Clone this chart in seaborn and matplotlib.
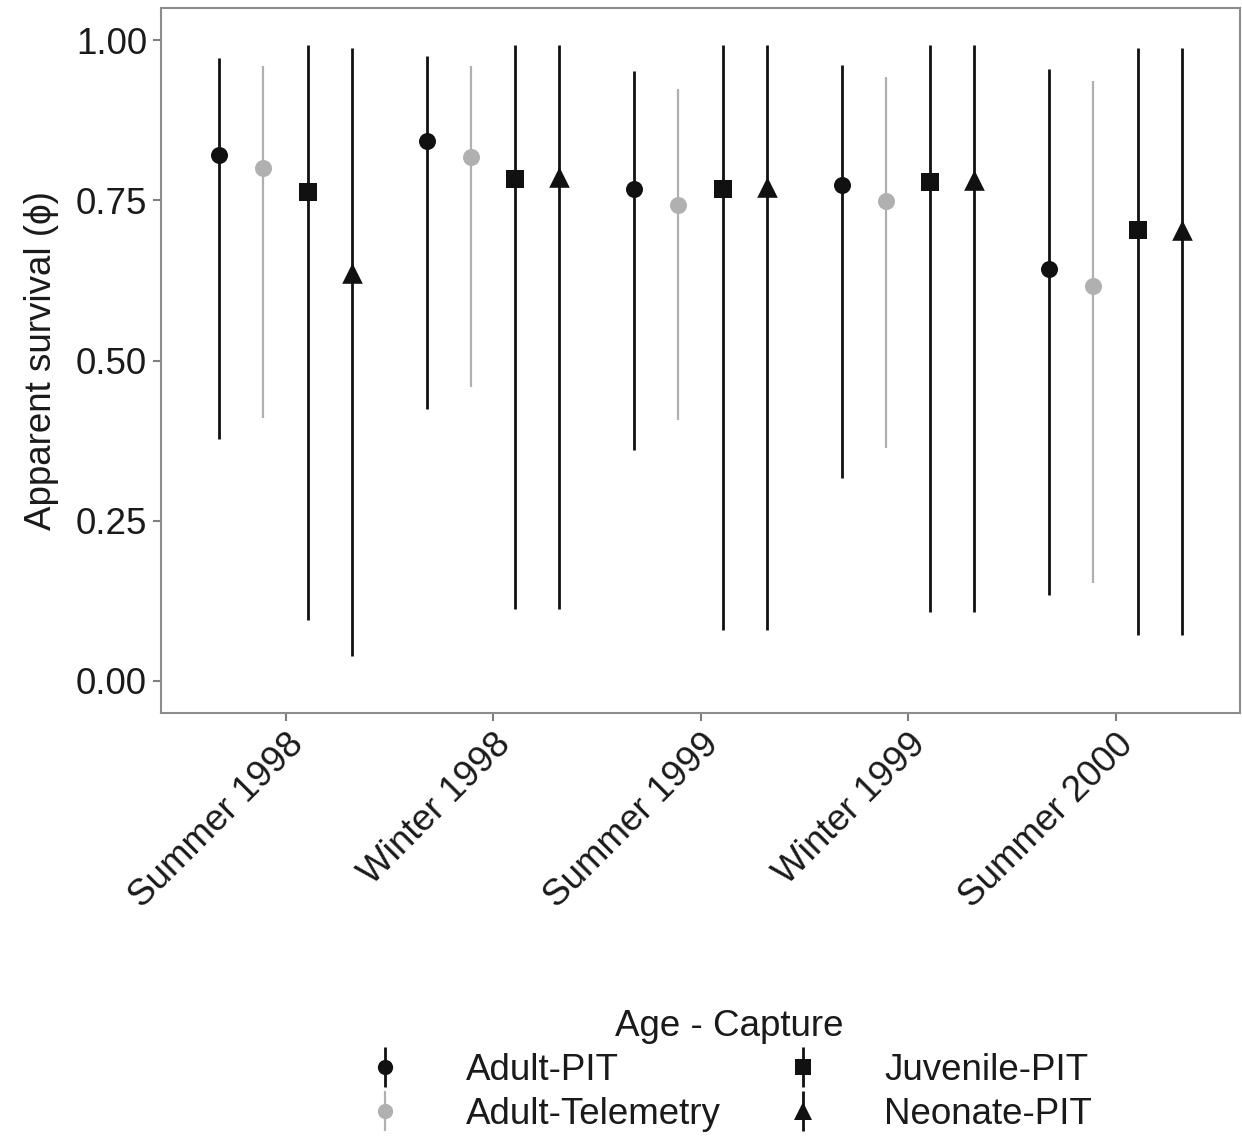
import numpy as np
import pandas as pd
import matplotlib
matplotlib.use("Agg")
import matplotlib.pyplot as plt
import seaborn as sns
from matplotlib.lines import Line2D
from matplotlib.legend_handler import HandlerTuple

# Survival estimates with 95% confidence limits per season and age/capture group
seasons = ["Summer 1998", "Winter 1998", "Summer 1999", "Winter 1999", "Summer 2000"]
groups = ["Adult-PIT", "Adult-Telemetry", "Juvenile-PIT", "Neonate-PIT"]

adult_pit_est = [0.820, 0.843, 0.768, 0.774, 0.643]
adult_pit_lo = [0.377, 0.424, 0.360, 0.316, 0.134]
adult_pit_hi = [0.972, 0.975, 0.952, 0.961, 0.955]

adult_tel_est = [0.800, 0.818, 0.743, 0.749, 0.617]
adult_tel_lo = [0.410, 0.459, 0.407, 0.364, 0.153]
adult_tel_hi = [0.960, 0.960, 0.924, 0.942, 0.936]

juvenile_est = [0.763, 0.783, 0.768, 0.779, 0.703]
juvenile_lo = [0.095, 0.112, 0.079, 0.107, 0.071]
juvenile_hi = [0.992, 0.992, 0.992, 0.992, 0.987]

neonate_est = [0.636, 0.787, 0.771, 0.782, 0.704]
neonate_lo = [0.039, 0.112, 0.079, 0.107, 0.071]
neonate_hi = [0.988, 0.992, 0.992, 0.992, 0.987]

est = [adult_pit_est, adult_tel_est, juvenile_est, neonate_est]
lo = [adult_pit_lo, adult_tel_lo, juvenile_lo, neonate_lo]
hi = [adult_pit_hi, adult_tel_hi, juvenile_hi, neonate_hi]

rows = []
for gi, g in enumerate(groups):
    for si, s in enumerate(seasons):
        rows.append(dict(season=s, group=g, est=est[gi][si], lo=lo[gi][si], hi=hi[gi][si]))
df = pd.DataFrame(rows)

# dodge groups within each season (total dodge width 0.85)
dodge_width = 0.85
n = len(groups)
offsets = {g: (i + 0.5) * dodge_width / n - dodge_width / 2 for i, g in enumerate(groups)}
df["x"] = df["season"].map({s: i for i, s in enumerate(seasons)}) + df["group"].map(offsets)

colors = {"Adult-PIT": "#111111", "Adult-Telemetry": "#b0b0b0",
          "Juvenile-PIT": "#111111", "Neonate-PIT": "#111111"}
markers = {"Adult-PIT": "o", "Adult-Telemetry": "o",
           "Juvenile-PIT": "s", "Neonate-PIT": "^"}
msizes = {"Adult-PIT": 150, "Adult-Telemetry": 150,
          "Juvenile-PIT": 150, "Neonate-PIT": 220}
lwidths = {"Adult-PIT": 2.0, "Adult-Telemetry": 1.6,
           "Juvenile-PIT": 2.0, "Neonate-PIT": 2.0}

FS = 26.5
TXT = "#1a1a1a"

sns.set_theme(style="white")
plt.rcParams["font.family"] = ["Liberation Sans", "DejaVu Sans"]

fig = plt.figure(figsize=(12.42, 11.39), dpi=100)
ax = fig.add_axes([161 / 1242, 1 - 713 / 1139, (1240 - 161) / 1242, (713 - 8) / 1139])

for g in groups:
    sub = df[df["group"] == g]
    ax.vlines(sub["x"], sub["lo"], sub["hi"], color=colors[g], lw=lwidths[g], zorder=2)
    sns.scatterplot(data=sub, x="x", y="est", color=colors[g], marker=markers[g],
                    s=msizes[g], linewidth=0, legend=False, ax=ax, zorder=3)

ax.set_xlim(-0.6, len(seasons) - 0.4)
ax.set_ylim(-0.05, 1.05)
ax.set_xticks(range(len(seasons)))
ax.set_xticklabels(seasons, rotation=45, ha="right", va="top",
                   rotation_mode="anchor", fontsize=FS, color=TXT)
ax.set_yticks([0, 0.25, 0.5, 0.75, 1.0])
ax.set_yticklabels(["0.00", "0.25", "0.50", "0.75", "1.00"], fontsize=FS, color=TXT)
ax.tick_params(axis="both", length=6, width=1.5, color="#7f7f7f", direction="out",
               bottom=True, left=True, pad=4)
ax.set_xlabel("")
ax.set_ylabel("Apparent survival (\u03d5)", fontsize=FS, color=TXT, labelpad=12)
for sp in ax.spines.values():
    sp.set_color("#8c8c8c")
    sp.set_linewidth(1.5)

# legend with point-range glyphs (vertical range line overlaid on the marker)
handles = []
for g in groups:
    vline = Line2D([], [], color=colors[g], marker="|", markersize=29,
                   markeredgewidth=lwidths[g], linestyle="none")
    pt = Line2D([], [], color=colors[g], marker=markers[g],
                markersize=11 if markers[g] != "^" else 13,
                markeredgewidth=0, linestyle="none")
    handles.append((vline, pt))

leg = fig.legend(handles, groups, title="Age - Capture", ncol=2,
                 loc="upper center", bbox_to_anchor=(0.587, 1 - 983 / 1139),
                 frameon=False, fontsize=FS, title_fontsize=FS,
                 handler_map={tuple: HandlerTuple(ndivide=1, pad=0)},
                 handlelength=1.0, handletextpad=1.7, columnspacing=1.75,
                 labelspacing=0.25, borderpad=0.2)
for t in leg.get_texts():
    t.set_color(TXT)
leg.get_title().set_color(TXT)

fig.savefig("out.png", dpi=100, facecolor="white")
